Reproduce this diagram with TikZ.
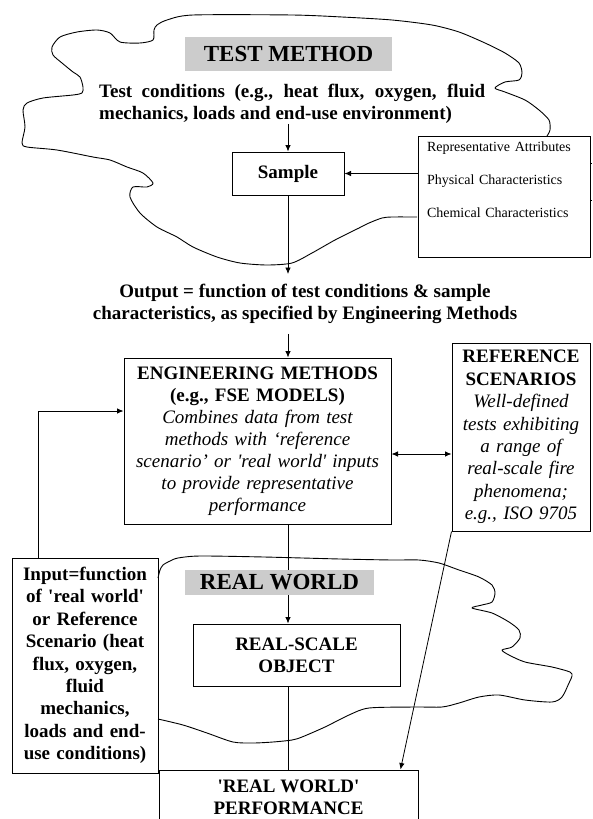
\documentclass[tikz,border=0pt]{standalone}
\usepackage{fontspec}
\setmainfont{Liberation Serif}
\usetikzlibrary{arrows.meta,positioning,calc}
\tikzstyle{block} = [draw, rectangle, line width=1pt, align=center, text=black, inner sep=0pt,
    font=\bfseries\fontsize{19}{22}\selectfont]
\tikzstyle{banner} = [rectangle, fill=gray!40, text=black, inner sep=0pt,
    font=\bfseries\fontsize{23}{26}\selectfont]
\tikzstyle{note} = [align=center, text=black, inner sep=0pt, font=\bfseries\fontsize{19}{22}\selectfont]
\tikzstyle{arr} = [draw, line width=0.8pt, ->]
\tikzstyle{blob} = [draw, line width=0.9pt, line join=round]
\newcommand{\itdesc}[1]{{\mdseries\itshape #1}}

\begin{document}
\begin{tikzpicture}[x=1pt, y=-1pt, >={Latex[length=6.5pt,width=5.5pt]}]
    \useasboundingbox (0,0) rectangle (592,819);

    % test method cloud
    \draw [blob] plot [smooth, tension=0.45] coordinates {(417,217) (392,217) (382,218) (369,223)
        (359,228) (335,240) (312,253) (292,263) (267,265) (240,263) (217,257) (193,247) (177,237)
        (157,227) (140,213) (130,197) (133,187) (147,187) (153,183) (143,173) (127,167) (110,160)
        (93,157) (57,150) (27,147) (22,143) (25,127) (23,110) (27,103) (43,98) (73,95) (82,93)
        (83,87) (80,77) (73,72) (62,63) (53,55) (52,47) (60,37) (77,32) (97,30) (110,33) (120,42)
        (140,43) (153,40) (154,30) (157,25) (167,20) (193,15) (292,15) (342,17) (392,20) (432,25)
        (459,32) (485,43) (505,53) (519,63) (522,73) (519,80) (505,82) (495,88) (505,92) (525,100)
        (539,110) (549,120) (550,130) (547,136)};

    \node [banner, minimum width=207pt, minimum height=34pt] (test) at (288.5,54) {TEST METHOD};
    \node [note, align=left, anchor=north west] (cond) at (99,84)
        {\makebox[386pt][s]{Test conditions (e.g., heat flux, oxygen, fluid}\\
         mechanics, loads and end-use environment)};
    \node [block, minimum width=112pt, minimum height=43pt] (sample) at (288,173.5) {Sample};
    \node [block, font=\mdseries\fontsize{14}{33}\selectfont, align=left, text width=154pt,
        inner xsep=9pt, minimum height=121pt] (attr) at (504,196.5)
        {Representative Attributes\\ Physical Characteristics\\ Chemical Characteristics\\ \mbox{}};
    \coordinate (cut1) at (592,163);
    \coordinate (cut2) at (592,200);
    \draw [line width=0.8pt] (attr.east |- cut1) -- (cut1);
    \draw [line width=0.8pt] (attr.east |- cut2) -- (cut2);

    \draw [arr] (cond.south -| sample) -- (sample.north);
    \draw [arr] (attr.west |- sample.east) -- (sample.east);

    \node [note, inner ysep=10pt] (output) at (305,304)
        {Output = function of test conditions \& sample\\
         characteristics, as specified by Engineering Methods};
    \draw [arr] (sample.south) -- (sample.south |- output.north);

    \node [block, text width=259pt, inner xsep=4pt, minimum height=166pt] (eng) at (257.5,441)
        {ENGINEERING METHODS\\ (e.g., FSE MODELS)\\ \itdesc{Combines data from test}\\
         \itdesc{methods with `reference}\\ \itdesc{scenario' or \textquotesingle real world\textquotesingle\ inputs}\\
         \itdesc{to provide representative}\\ \itdesc{performance}};
    \node [block, text width=130pt, inner xsep=4pt, minimum height=188pt,
        font=\bfseries\fontsize{19}{22.4}\selectfont] (ref) at (521,437)
        {REFERENCE\\ SCENARIOS\\ \itdesc{Well-defined}\\ \itdesc{tests exhibiting}\\
         \itdesc{a range of}\\ \itdesc{real-scale fire}\\ \itdesc{phenomena;}\\ \itdesc{e.g., ISO 9705}};
    \draw [arr] (output.south -| sample) -- (eng.north -| sample);
    \draw [<->, line width=0.8pt] ([yshift=-13pt]eng.east) -- ([yshift=-13pt]eng.east -| ref.west);

    % real world cloud
    \draw [blob] plot [smooth, tension=0.45] coordinates {(158,578) (160,570) (163,565) (170,561)
        (178,558) (200,556) (264,557) (340,559) (392,560) (419,560) (439,563) (459,570) (479,577)
        (492,585) (495,593) (492,602) (482,605) (472,608) (492,613) (509,622) (519,630) (520,638)
        (512,647) (502,650) (509,655) (525,662) (552,667) (570,672) (572,676) (569,683) (562,697)
        (552,702) (525,700) (499,695) (479,697) (459,703) (442,707) (415,707) (369,708) (349,715)
        (325,727) (302,737) (292,740) (273,742) (253,743) (233,742) (207,733) (183,725) (158,719)};

    \node [block, text width=140pt, inner xsep=3pt, minimum height=215pt,
        font=\bfseries\fontsize{19}{22.4}\selectfont] (input) at (85,665.5)
        {Input=function\\ of \textquotesingle real world\textquotesingle\\ or Reference\\
         Scenario (heat\\ flux, oxygen,\\ fluid\\ mechanics,\\ loads and end-\\ use conditions)};
    \node [block, minimum width=207pt, minimum height=62pt] (object) at (296.5,655) {REAL-SCALE\\ OBJECT};
    \draw [arr] (eng.south -| sample) -- (object.north -| sample);
    \node [banner, minimum width=189pt, minimum height=25pt] (world) at (279.5,582.5) {REAL WORLD};
    \node [block, minimum width=259pt, minimum height=54pt] (perf) at (288.5,797)
        {\textquotesingle REAL WORLD\textquotesingle\\ PERFORMANCE};
    \draw [line width=0.8pt] (object.south -| sample) -- (perf.north -| sample);
    \draw [arr] (ref.south west) -- ([xshift=-18pt]perf.north east);
    \draw [arr] ([xshift=-47pt]input.north) |- ([yshift=30pt]eng.west);
\end{tikzpicture}
\end{document}
